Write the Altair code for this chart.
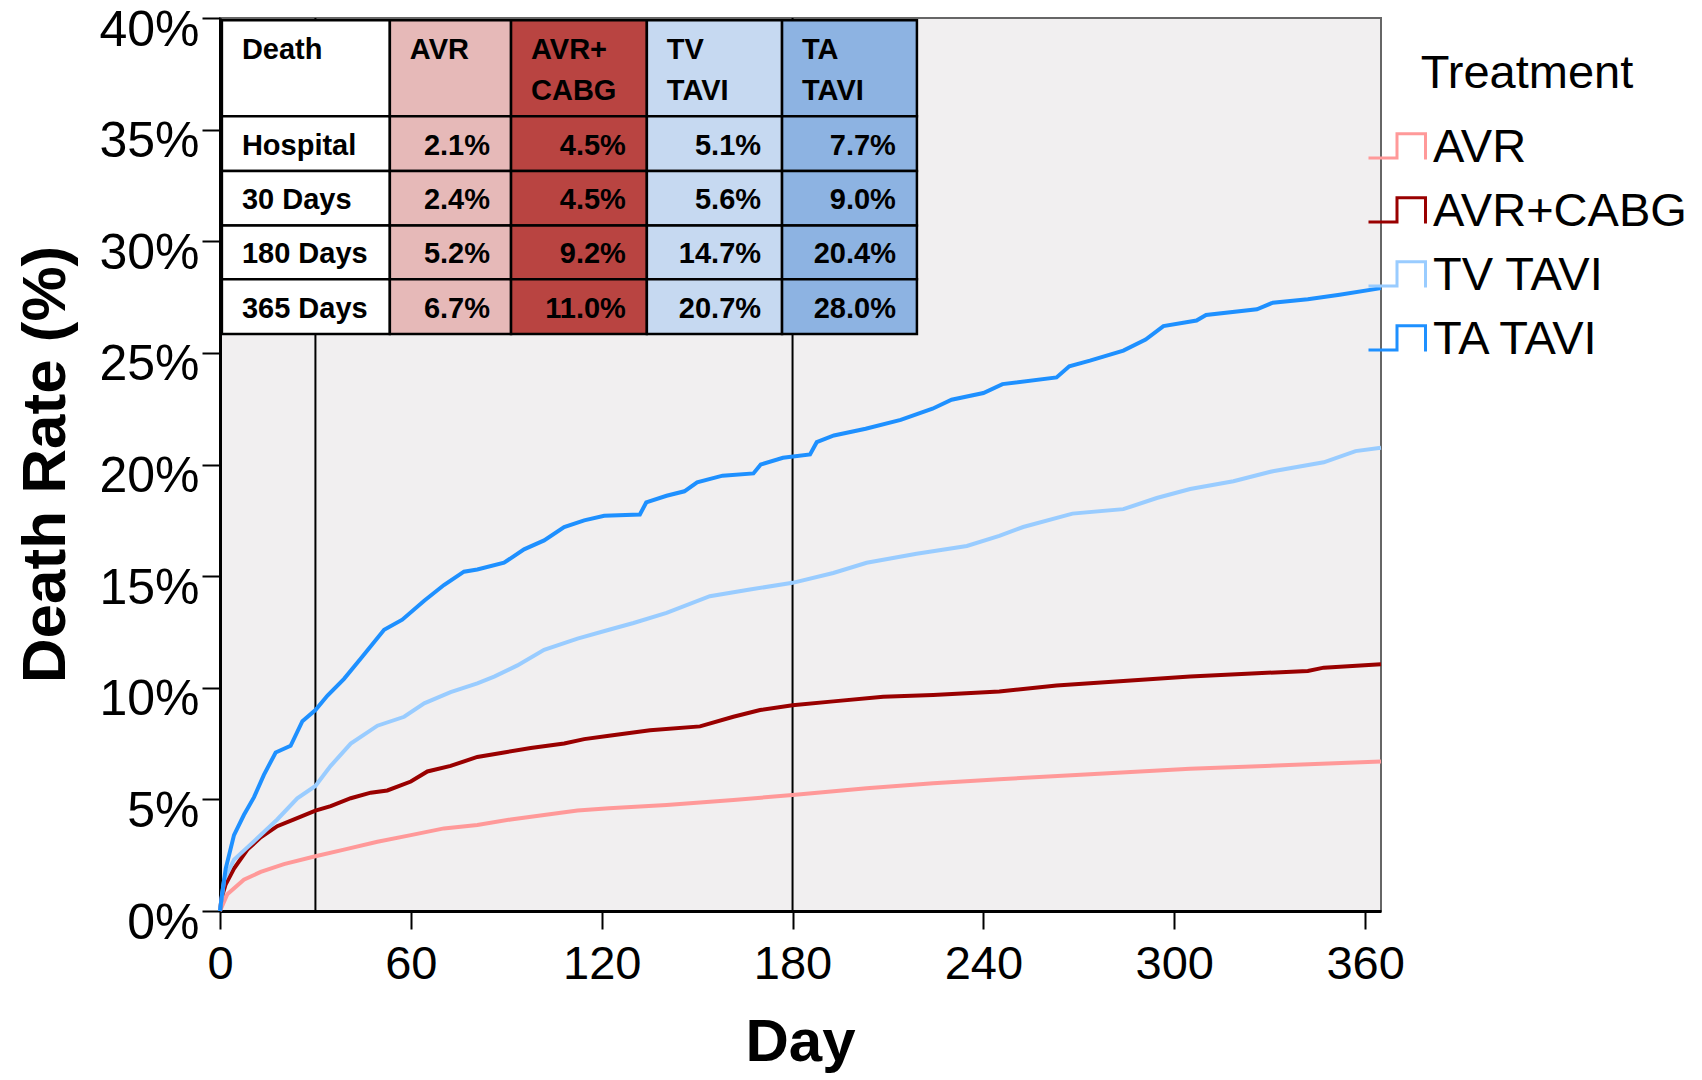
import altair as alt
import pandas as pd

# ---------------- data ----------------
treatments = ["AVR", "AVR+CABG", "TV TAVI", "TA TAVI"]
line_colors = ["#FF9999", "#990000", "#99CCFF", "#1E90FF"]

avr_day = [0, 2.3, 7.5, 12.8, 20.1, 30, 39, 49.5, 60, 70.4, 80.9, 91.4, 101.9, 112.4, 122.3,
           140.4, 161.4, 180, 203.3, 224.2, 245, 273.5, 305, 336, 365]
avr_pct = [0, 0.75, 1.4, 1.75, 2.1, 2.45, 2.75, 3.1, 3.4, 3.7, 3.85, 4.1, 4.3, 4.5, 4.6,
           4.75, 4.97, 5.2, 5.5, 5.72, 5.9, 6.13, 6.37, 6.54, 6.7]

cabg_day = [0, 0.5, 1.8, 4.4, 8.6, 12.8, 18, 23.3, 30, 34.8, 41.1, 47.4, 52.6, 60, 65.2, 72.5,
            80.9, 89.3, 97.7, 108.2, 114.5, 122.3, 135.2, 150.9, 161.4, 169.8, 180, 192.8,
            208.5, 224.2, 245, 263, 284, 305, 326, 342, 347, 365]
cabg_pct = [0, 0.6, 1.2, 1.9, 2.75, 3.3, 3.8, 4.1, 4.5, 4.7, 5.05, 5.3, 5.4, 5.8, 6.25, 6.5,
            6.9, 7.1, 7.3, 7.5, 7.7, 7.85, 8.1, 8.27, 8.7, 9.0, 9.22, 9.39,
            9.6, 9.68, 9.83, 10.1, 10.3, 10.5, 10.65, 10.75, 10.9, 11.05]

tv_day = [0, 1.3, 4.4, 8.6, 12.8, 18, 24.3, 30, 34.8, 41.1, 49.5, 57.9, 64.2, 72.5, 80.9, 86.2,
          93.5, 101.9, 112.4, 122.3, 130, 140.4, 154, 166.6, 180, 192.8, 203.3, 219, 234.8,
          245, 252.5, 268, 284, 294.5, 305, 318.6, 331, 347, 357, 365]
tv_pct = [0, 1.4, 2.3, 2.85, 3.4, 4.1, 5.05, 5.6, 6.5, 7.5, 8.3, 8.7, 9.3, 9.8, 10.2, 10.5,
          11.0, 11.7, 12.2, 12.6, 12.9, 13.35, 14.1, 14.4, 14.7, 15.14, 15.6, 16.0, 16.35,
          16.8, 17.2, 17.8, 18.0, 18.5, 18.9, 19.25, 19.7, 20.1, 20.6, 20.75]

ta_day = [0, 0.5, 1.8, 4.4, 7.5, 10.7, 13.8, 17.5, 22.2, 25.9, 30, 33.8, 39, 44.2, 51.6, 57.3,
          64.2, 70.4, 76.7, 80.9, 89.3, 95.6, 101.9, 108.2, 114.5, 120.8, 132, 134, 140.4,
          146, 150, 158, 167.7, 170, 177, 185.5, 187.6, 193, 203, 214, 224, 230, 240, 246,
          263, 267, 273.5, 284, 291, 296.6, 307, 310, 326, 331, 342, 352, 365]
ta_pct = [0, 0.6, 1.9, 3.4, 4.3, 5.1, 6.1, 7.1, 7.4, 8.5, 9.0, 9.65, 10.4, 11.3, 12.6, 13.05,
          13.9, 14.6, 15.2, 15.3, 15.6, 16.2, 16.6, 17.2, 17.5, 17.7, 17.76, 18.3, 18.6,
          18.8, 19.2, 19.5, 19.6, 20.0, 20.3, 20.45, 21.0, 21.3, 21.6, 22.0, 22.5, 22.9, 23.2, 23.6,
          23.9, 24.4, 24.65, 25.1, 25.6, 26.2, 26.45, 26.7, 26.95, 27.25, 27.4, 27.6, 27.9]

milestone_days = [30, 180]

table_headers = ["Death", "AVR", "AVR+\nCABG", "TV\nTAVI", "TA\nTAVI"]
table_rows = ["Hospital", "30 Days", "180 Days", "365 Days"]
avr_vals = [2.1, 2.4, 5.2, 6.7]
cabg_vals = [4.5, 4.5, 9.2, 11.0]
tv_vals = [5.1, 5.6, 14.7, 20.7]
ta_vals = [7.7, 9.0, 20.4, 28.0]
table_fills = ["#FFFFFF", "#E6B9B8", "#B94441", "#C6D9F1", "#8DB3E2"]

# table layout, expressed in the chart's own data space (day, percent)
col_edges = [0.6, 53.4, 91.5, 134.2, 176.7, 219.1]
row_edges = [39.9, 35.6, 33.15, 30.7, 28.3, 25.85]

# ---------------- build tables ----------------
curves = []
for name, days, pcts in [("AVR", avr_day, avr_pct), ("AVR+CABG", cabg_day, cabg_pct),
                         ("TV TAVI", tv_day, tv_pct), ("TA TAVI", ta_day, ta_pct)]:
    for i, (d, p) in enumerate(zip(days, pcts)):
        curves.append({"Treatment": name, "day": d, "pct": p, "order": i})
curves = pd.DataFrame(curves)

ms = pd.DataFrame({"day": milestone_days})

cols_vals = [None, avr_vals, cabg_vals, tv_vals, ta_vals]
cells, heads, rowlabs, vals = [], [], [], []
for ci in range(5):
    for ri in range(5):
        cells.append({"x0": col_edges[ci], "x1": col_edges[ci + 1],
                      "y0": row_edges[ri], "y1": row_edges[ri + 1],
                      "fill": table_fills[ci]})
    heads.append({"x": col_edges[ci], "y": row_edges[0], "t": table_headers[ci]})
for ri, r in enumerate(table_rows):
    ymid = (row_edges[ri + 1] + row_edges[ri + 2]) / 2
    rowlabs.append({"x": col_edges[0], "y": ymid, "t": r})
    for ci in range(1, 5):
        vals.append({"x": col_edges[ci + 1], "y": ymid, "t": f"{cols_vals[ci][ri]:.1f}%"})
cells = pd.DataFrame(cells)
heads = pd.DataFrame(heads)
rowlabs = pd.DataFrame(rowlabs)
vals = pd.DataFrame(vals)

FONT = "Liberation Sans"
xscale = alt.Scale(domain=[0, 365], nice=False, zero=True)
yscale = alt.Scale(domain=[0, 40], nice=False, zero=True)

x_axis = alt.Axis(title="Day", values=[0, 60, 120, 180, 240, 300, 360], grid=False,
                  labelFont=FONT, labelFontSize=47, labelColor="black", labelFlush=False,
                  labelPadding=12, tickSize=18, tickWidth=2, tickColor="black",
                  domainColor="black", domainWidth=3,
                  titleFont=FONT, titleFontSize=60, titleFontWeight="bold",
                  titleColor="black", titleX=580, titleY=149,
                  titleBaseline="alphabetic", titleAlign="center")
y_axis = alt.Axis(title="Death Rate (%)", values=[0, 5, 10, 15, 20, 25, 30, 35, 40],
                  labelExpr="datum.value + '%'", grid=False, labelFlush=False,
                  labelFont=FONT, labelFontSize=50, labelColor="black",
                  labelPadding=3, labelOffset=12, tickSize=18, tickWidth=2,
                  tickColor="black", domainColor="black", domainWidth=3,
                  titleFont=FONT, titleFontSize=62, titleFontWeight="bold",
                  titleColor="black", titleAngle=270, titleX=-156, titleY=446,
                  titleBaseline="alphabetic", titleAlign="center")


def X(field):
    return alt.X(field, scale=xscale, axis=x_axis, title="Day")


def Y(field):
    return alt.Y(field, scale=yscale, axis=y_axis, title="Death Rate (%)")


lines = alt.Chart(curves).mark_line(strokeWidth=4, interpolate="linear").encode(
    x=X("day:Q"),
    y=Y("pct:Q"),
    color=alt.Color("Treatment:N",
                    scale=alt.Scale(domain=treatments, range=line_colors),
                    sort=treatments,
                    legend=alt.Legend(title="Treatment", orient="none", legendX=1147, legendY=33,
                                      symbolType="M-1,0.35H0V-0.5H1V0.4",
                                      symbolSize=3249, symbolStrokeWidth=3,
                                      symbolFillColor="transparent",
                                      labelFont=FONT, labelFontSize=47, labelColor="black",
                                      labelLimit=0, titleLimit=0,
                                      titleFont=FONT, titleFontSize=47, titleFontWeight="normal",
                                      titleColor="black", titleAnchor="middle",
                                      titlePadding=20, rowPadding=11, labelOffset=6,
                                      padding=0)),
    order="order:Q",
)

rules = alt.Chart(ms).mark_rule(color="black", strokeWidth=2).encode(x=X("day:Q"))

rects = alt.Chart(cells).mark_rect(stroke="black", strokeWidth=2.5).encode(
    x=X("x0:Q"), x2="x1:Q",
    y=Y("y0:Q"), y2="y1:Q",
    fill=alt.Fill("fill:N", scale=None))

head_text = alt.Chart(heads).mark_text(
    align="left", baseline="top", dx=20, dy=16, font=FONT, fontSize=29,
    fontWeight="bold", color="black", lineBreak="\n", lineHeight=41).encode(
    x=X("x:Q"), y=Y("y:Q"), text="t:N")

row_text = alt.Chart(rowlabs).mark_text(
    align="left", baseline="middle", dx=20, dy=2, font=FONT, fontSize=29,
    fontWeight="bold", color="black").encode(
    x=X("x:Q"), y=Y("y:Q"), text="t:N")

val_text = alt.Chart(vals).mark_text(
    align="right", baseline="middle", dx=-21, dy=2, font=FONT, fontSize=29,
    fontWeight="bold", color="black").encode(
    x=X("x:Q"), y=Y("y:Q"), text="t:N")

chart = alt.layer(rules, lines, rects, head_text, row_text, val_text).properties(
    width=1161, height=893,
    autosize=alt.AutoSizeParams(type="none"),
    padding={"left": 212, "top": 10, "right": 313, "bottom": 162},
    background="white",
).configure_view(fill="#F1EFF0", stroke="#666666", strokeWidth=2)

chart.save("out.html", embed_options={"renderer": "svg", "actions": False})
